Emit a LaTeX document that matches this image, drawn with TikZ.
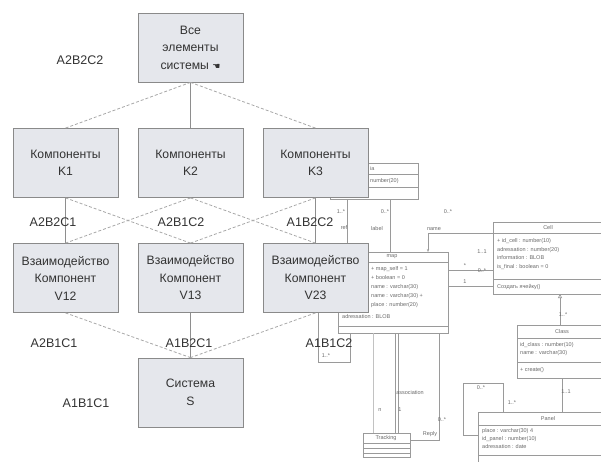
\documentclass[tikz,border=0pt]{standalone}
\usepackage{fontspec}
\setmainfont{Liberation Sans}
\newfontfamily\symfont{DejaVu Sans}
\usetikzlibrary{arrows.meta}
\definecolor{boxfill}{HTML}{E5E7EC}
\definecolor{boxborder}{HTML}{8A8A8A}
\definecolor{textcol}{HTML}{333333}
\definecolor{linecol}{HTML}{8E8E8E}
\definecolor{dashcol}{HTML}{A8A8A8}
\definecolor{umlcol}{HTML}{9A9A9A}
\definecolor{umltext}{HTML}{6A6A6A}
\tikzset{
  mainbox/.style={draw=boxborder, fill=boxfill, line width=0.8pt, minimum width=105pt, minimum height=69pt, align=center, text=textcol, inner sep=1pt, font=\fontsize{12.2}{17.5}\selectfont},
  lbl/.style={text=textcol, inner sep=0pt, font=\fontsize{12.5}{14}\selectfont},
  solidc/.style={draw=linecol, line width=0.8pt},
  dashc/.style={draw=dashcol, line width=0.8pt, dash pattern=on 3pt off 2pt},
  umlline/.style={draw=umlcol, line width=0.6pt},
  umlbox/.style={draw=umlcol, line width=0.6pt, fill=white},
  ut/.style={text=umltext, inner sep=0pt, anchor=west, font=\fontsize{5.5}{6}\selectfont},
  uc/.style={text=umltext, inner sep=0pt, font=\fontsize{5.5}{6}\selectfont},
}
\begin{document}
\begin{tikzpicture}[x=1pt, y={(0pt,-1pt)}]
\useasboundingbox[fill=white] (0,0) rectangle (601,462);
% ---------------- background UML fragment ----------------
% top partial class
\draw[umlbox] (330,163) rectangle (418,199);
\draw[umlline] (330,174) -- (418,174) (330,187) -- (418,187);
\node[ut] (tc1) at (370,169) {ia};
\node[ut] (tc2) at (370,181) {number(20)};
% map
\draw[umlbox] (338,252) rectangle (448,333);
\draw[umlline] (338,262) -- (448,262) (338,326) -- (448,326);
\node[uc] (maph) at (392,257) {map};
\node[ut] at (371,269) {+ map\_self = 1};
\node[ut] at (371,278) {+ boolean = 0};
\node[ut] at (371,287) {name : varchar(30)};
\node[ut] at (371,296) {name : varchar(30) +};
\node[ut] at (371,305) {place : number(20)};
\node[ut] at (342,317) {adressation : BLOB};
% cell
\draw[umlbox] (493,222) rectangle (606,294);
\draw[umlline] (428,233) -- (606,233) (493,279) -- (606,279);
\node[uc] at (548,228) {Cell};
\node[ut] at (497,241) {+ id\_cell : number(10)};
\node[ut] at (497,250) {adressation : number(20)};
\node[ut] at (497,258) {information : BLOB};
\node[ut] at (497,267) {is\_final : boolean = 0};
\node[ut] at (497,287) {Создать ячейку()};
% class
\draw[umlbox] (517,325) rectangle (606,378);
\draw[umlline] (517,338) -- (606,338) (517,362) -- (606,362);
\node[uc] at (562,332) {Class};
\node[ut] at (520,345) {id\_class : number(10)};
\node[ut] at (520,353) {name : varchar(30)};
\node[ut] at (520,370) {+ create()};
% panel
\draw[umlbox] (478,412) rectangle (606,470);
\draw[umlline] (478,425) -- (606,425) (478,455) -- (606,455);
\node[uc] at (548,419) {Panel};
\node[ut] at (482,431) {place : varchar(30) 4};
\node[ut] at (482,439) {id\_panel : number(10)};
\node[ut] at (482,447) {adressation : date};
% tracking box
\draw[umlbox] (363,433) rectangle (410,457);
\draw[umlline] (363,443) -- (410,443) (363,448) -- (410,448) (363,453) -- (410,453);
\node[uc] at (386,438) {Tracking};
% connectors of UML fragment
\draw[umlline] (347,199) -- (347,252);
\draw[umlline] (390,199) -- (390,252);
\draw[umlline,-{Stealth[length=3pt]}] (428,233) -- (428,252);
\draw[umlline] (448,270) -- (493,270);
\draw[umlline] (448,286) -- (493,286);
\draw[umlline,{Triangle[open,length=4pt,width=4pt]}-] (560,294) -- (560,325);
\draw[umlline] (562,378) -- (562,412);
\draw[umlline] (503,412) -- (503,383) -- (463,383) -- (463,435) -- (478,435);
\draw[umlline, draw=umlcol!60] (373,333) -- (373,433);
\draw[umlline] (395,333) -- (395,433) (398,333) -- (398,433);
\draw[umlline] (439,333) -- (439,440) -- (410,440);
\draw[umlline] (318,313) -- (318,362) -- (350,362) -- (350,333);
% multiplicities
\node[uc] at (341,212) {1..*};
\node[uc] at (385,212) {0..*};
\node[uc] at (377,229) {label};
\node[uc] at (344,228) {ref};
\node[uc] at (448,212) {0..*};
\node[uc] at (434,229) {name};
\node[uc] at (465,266) {*};
\node[uc] at (465,282) {1};
\node[uc] at (482,252) {1..1};
\node[uc] at (482,271) {0..*};
\node[uc] at (563,315) {1..*};
\node[uc] at (566,392) {1..1};
\node[uc] at (481,388) {0..*};
\node[uc] at (512,403) {1..*};
\node[uc] at (410,393) {association};
\node[uc] at (380,410) {n};
\node[uc] at (400,410) {1};
\node[uc] at (442,420) {0..*};
\node[uc] at (430,434) {Reply};
\node[uc] at (326,356) {1..*};
% ---------------- main lattice ----------------
\node[mainbox] (all) at (190.5,47.5) {Все\\элементы\\системы {\symfont\fontsize{9}{9}\selectfont ☚}};
\node[mainbox] (k1) at (65.5,163) {Компоненты\\K1};
\node[mainbox] (k2) at (190.5,163) {Компоненты\\K2};
\node[mainbox] (k3) at (315.5,163) {Компоненты\\K3};
\node[mainbox] (v12) at (65.5,278) {Взаимодейство\\Компонент\\V12};
\node[mainbox] (v13) at (190.5,278) {Взаимодейство\\Компонент\\V13};
\node[mainbox] (v23) at (315.5,278) {Взаимодейство\\Компонент\\V23};
\node[mainbox] (s) at (190.5,392.5) {Система\\S};
% connectors
\draw[solidc] (all.south) -- (k2.north);
\draw[dashc] (all.south) -- (k1.north);
\draw[dashc] (all.south) -- (k3.north);
\draw[solidc] (k1.south) -- (v12.north);
\draw[solidc] (k3.south) -- (v23.north);
\draw[dashc] (k1.south) -- (v13.north);
\draw[dashc] (k3.south) -- (v13.north);
\draw[dashc] (k2.south) -- (v12.north);
\draw[dashc] (k2.south) -- (v23.north);
\draw[solidc] (v13.south) -- (s.north);
\draw[dashc] (v12.south) -- (s.north);
\draw[dashc] (v23.south) -- (s.north);
% level labels
\node[lbl] (l222) at (80,60) {A2B2C2};
\node[lbl] (l221) at (53,222) {A2B2C1};
\node[lbl] (l212) at (181,222) {A2B1C2};
\node[lbl] (l122) at (310,222) {A1B2C2};
\node[lbl] (l211) at (54,343) {A2B1C1};
\node[lbl] (l121) at (189,343) {A1B2C1};
\node[lbl] (l112) at (329,343) {A1B1C2};
\node[lbl] (l111) at (86,403) {A1B1C1};
\end{tikzpicture}
\end{document}
